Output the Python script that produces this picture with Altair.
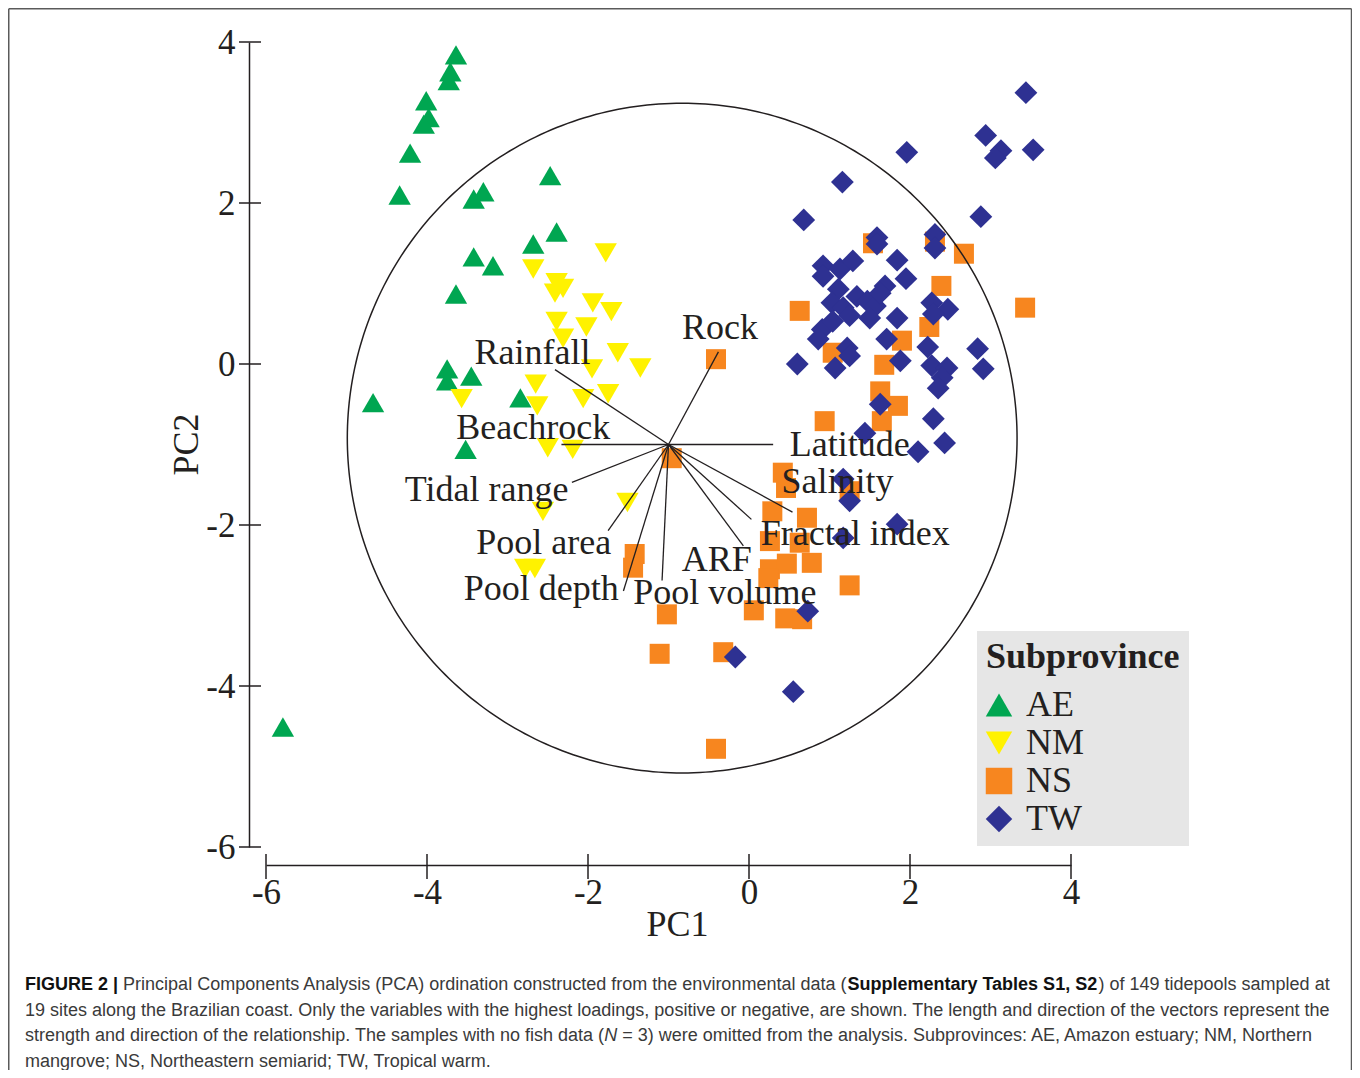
import altair as alt
import pandas as pd
import numpy as np

# ---------------- data ----------------
groups = ["AE", "NM", "NS", "TW"]
group_colors = ["#00a651", "#fff200", "#f7861f", "#2e3192"]
group_shapes = ["triangle-up", "triangle-down", "square", "diamond"]
group_sizes = [500, 500, 400, 520]

ae_x = [-3.64, -3.71, -3.73, -4.01, -3.98, -4.04, -4.21, -4.34, -2.47, -3.30, -3.42, -2.39,
        -2.68, -3.42, -3.18, -3.64, -3.75, -3.75, -3.45, -4.67, -2.84, -3.52, -5.79]
ae_y = [3.84, 3.63, 3.52, 3.27, 3.06, 2.98, 2.62, 2.10, 2.34, 2.14, 2.05, 1.64,
        1.49, 1.33, 1.22, 0.87, -0.06, -0.21, -0.15, -0.48, -0.42, -1.06, -4.51]

nm_x = [-1.78, -2.68, -2.39, -2.31, -2.41, -1.94, -1.71, -2.39, -2.02, -2.31, -1.63, -1.35,
        -1.95, -2.65, -3.57, -2.63, -2.06, -1.75, -2.50, -2.19, -1.51, -2.56, -2.78, -2.66]
nm_y = [1.38, 1.18, 1.01, 0.94, 0.88, 0.76, 0.65, 0.53, 0.46, 0.32, 0.14, -0.05,
        -0.06, -0.25, -0.43, -0.52, -0.43, -0.37, -1.04, -1.06, -1.72, -1.83, -2.54, -2.54]

ns_x = [-0.41, -0.96, 0.63, 1.54, 2.31, 2.67, 2.39, 3.43, 2.24, 1.90, 1.04, 1.68, 1.63,
        1.85, 1.65, 0.94, 0.42, 0.46, 1.25, 0.29, 0.72, 0.26, 0.63, -1.42, -1.44, 0.26,
        0.47, 0.24, 0.78, 1.25, -1.02, 0.06, 0.45, 0.66, -1.11, -0.32, -0.41]
ns_y = [0.06, -1.17, 0.66, 1.50, 1.52, 1.37, 0.97, 0.70, 0.46, 0.29, 0.14, -0.01, -0.34,
        -0.52, -0.71, -0.71, -1.35, -1.54, -1.58, -1.83, -1.91, -2.20, -2.22, -2.36, -2.53, -2.55,
        -2.48, -2.66, -2.47, -2.75, -3.11, -3.06, -3.16, -3.17, -3.60, -3.58, -4.78]

tw_x = [3.44, 2.94, 3.13, 3.06, 3.53, 1.96, 1.16, 0.68, 2.88, 1.59, 1.59, 2.31, 2.31, 1.84,
        0.92, 0.92, 1.13, 1.29, 1.95, 1.69, 1.11, 1.03, 1.17, 1.34, 1.47, 1.57, 1.63, 1.25,
        1.50, 0.91, 0.86, 1.04, 2.27, 2.47, 2.29, 1.84, 1.71, 2.22, 1.22, 1.25, 2.84, 2.91,
        0.60, 1.07, 1.88, 2.27, 2.46, 2.40, 2.35, 1.63, 2.29, 1.44, 2.43, 2.10, 1.17, 1.25,
        1.17, 1.84, 0.73, -0.17, 0.55]
tw_y = [3.37, 2.84, 2.65, 2.56, 2.66, 2.63, 2.26, 1.79, 1.83, 1.57, 1.49, 1.61, 1.44, 1.29,
        1.22, 1.09, 1.18, 1.28, 1.06, 0.97, 0.93, 0.76, 0.70, 0.84, 0.78, 0.72, 0.88, 0.60,
        0.57, 0.43, 0.31, 0.53, 0.76, 0.68, 0.62, 0.57, 0.31, 0.21, 0.20, 0.10, 0.19, -0.06,
        0.00, -0.05, 0.04, -0.02, -0.05, -0.17, -0.30, -0.50, -0.68, -0.86, -0.98, -1.09, -1.43,
        -1.70, -2.16, -1.99, -3.07, -3.64, -4.07]

# environmental vectors
vec_origin = (-1.0, -1.0)
vec_names = ["Rock", "Rainfall", "Beachrock", "Tidal range", "Pool area", "Pool depth",
             "Pool volume", "ARF", "Fractal index", "Salinity", "Latitude"]
vec_end_x = [-0.38, -2.41, -2.33, -2.20, -1.75, -1.56, -1.08, -0.07, 0.03, 0.54, 0.30]
vec_end_y = [0.15, -0.07, -1.00, -1.47, -2.07, -2.82, -2.69, -2.26, -1.93, -1.84, -1.00]
vec_label_x = [-0.36, -2.69, -2.68, -3.26, -2.55, -2.58, -0.30, -0.40, 1.32, 1.10, 1.25]
vec_label_y = [0.45, 0.14, -0.80, -1.57, -2.22, -2.80, -2.85, -2.43, -2.11, -1.47, -1.01]

# correlation circle
circle_cx, circle_cy, circle_r = -0.83, -0.92, 4.16

tick_values = [-6, -4, -2, 0, 2, 4]

caption_line1 = ["FIGURE 2 |",
                 "Principal Components Analysis (PCA) ordination constructed from the environmental data (",
                 "Supplementary Tables S1, S2",
                 ") of 149 tidepools sampled at"]
caption_line2 = ["19 sites along the Brazilian coast. Only the variables with the highest loadings, "
                 "positive or negative, are shown. The length and direction of the vectors represent the"]
caption_line3 = ["strength and direction of the relationship. The samples with no fish data (",
                 "N",
                 "= 3) were omitted from the analysis. Subprovinces: AE, Amazon estuary; NM, Northern"]
caption_line4 = ["mangrove; NS, Northeastern semiarid; TW, Tropical warm."]

# ---------------- styling ----------------
ink = "#231f20"
serif = "Liberation Serif"
sans = "Liberation Sans"
W, H = 805, 805
PX0, PY0 = 266, 42  # page position of plot origin
CANVAS_W, CANVAS_H = 1344, 1062

rows = []
for g, xs, ys in zip(groups, [ae_x, nm_x, ns_x, tw_x], [ae_y, nm_y, ns_y, tw_y]):
    for x, y in zip(xs, ys):
        rows.append({"group": g, "PC1": x, "PC2": y})
points = pd.DataFrame(rows)

x_scale = alt.Scale(domain=[-6, 4], nice=False, zero=False)
y_scale = alt.Scale(domain=[-6, 4], nice=False, zero=False)

x_axis = alt.Axis(title="PC1", values=tick_values, offset=18, ticks=False, tickSize=0, grid=False,
                  domainColor=ink, domainWidth=1.5, labelFont=serif, labelFontSize=35,
                  labelColor=ink, labelPadding=10, labelFlush=False, labelOverlap=False,
                  labelExpr="'' + datum.value",
                  titleFont=serif, titleFontSize=36, titleFontWeight="normal", titleColor=ink,
                  titleX=411, titleY=59, titleBaseline="middle", titleAlign="center")
y_axis = alt.Axis(title="PC2", values=tick_values, offset=17, ticks=False, tickSize=0, grid=False,
                  domainColor=ink, domainWidth=1.5, labelFont=serif, labelFontSize=35,
                  labelColor=ink, labelPadding=14, labelFlush=False, labelOverlap=False,
                  labelExpr="'' + datum.value",
                  titleFont=serif, titleFontSize=36, titleFontWeight="normal", titleColor=ink,
                  titleX=-63, titleY=402, titleBaseline="middle", titleAlign="center")

legend = alt.Legend(title="Subprovince", orient="none", legendX=977 - PX0, legendY=631 - PY0,
                    direction="vertical", fillColor="#e6e6e6", padding=9,
                    titleFont=serif, titleFontSize=36, titleFontWeight="bold", titleColor=ink,
                    titleLimit=500, labelLimit=300,
                    titlePadding=11, labelFont=serif, labelFontSize=36, labelColor=ink,
                    labelOffset=9, symbolOffset=-5, rowPadding=2, symbolSize=700, symbolOpacity=1,
                    symbolStrokeWidth=0)

color_enc = alt.Color("group:N", scale=alt.Scale(domain=groups, range=group_colors), legend=legend)
shape_enc = alt.Shape("group:N", scale=alt.Scale(domain=groups, range=group_shapes), legend=legend)

point_layers = []
for k, (g, sz) in enumerate(zip(groups, group_sizes)):
    sub = points[points["group"] == g]
    if k == 0:
        xe = alt.X("PC1:Q", scale=x_scale, axis=x_axis)
        ye = alt.Y("PC2:Q", scale=y_scale, axis=y_axis)
    else:
        xe = alt.X("PC1:Q", scale=x_scale)
        ye = alt.Y("PC2:Q", scale=y_scale)
    point_layers.append(
        alt.Chart(sub).mark_point(filled=True, opacity=1, strokeWidth=0, size=sz).encode(
            x=xe, y=ye, color=color_enc, shape=shape_enc)
    )

theta = np.linspace(0, 2 * np.pi, 361)
circ_df = pd.DataFrame({"PC1": circle_cx + circle_r * np.cos(theta),
                        "PC2": circle_cy + circle_r * np.sin(theta),
                        "i": np.arange(len(theta))})
circ = alt.Chart(circ_df).mark_line(color=ink, strokeWidth=1.5).encode(
    x=alt.X("PC1:Q", scale=x_scale),
    y=alt.Y("PC2:Q", scale=y_scale),
    order="i:Q",
)

vec_df = pd.DataFrame({"name": vec_names, "PC1": vec_origin[0], "PC2": vec_origin[1],
                       "x1": vec_end_x, "y1": vec_end_y})
vecs = alt.Chart(vec_df).mark_rule(color=ink, strokeWidth=1.3).encode(
    x=alt.X("PC1:Q", scale=x_scale),
    y=alt.Y("PC2:Q", scale=y_scale),
    x2="x1:Q", y2="y1:Q",
)
lab_df = pd.DataFrame({"name": vec_names, "PC1": vec_label_x, "PC2": vec_label_y})
labs = alt.Chart(lab_df).mark_text(font=serif, fontSize=36, color=ink, align="center",
                                   baseline="middle").encode(
    x=alt.X("PC1:Q", scale=x_scale),
    y=alt.Y("PC2:Q", scale=y_scale),
    text="name:N",
)

xticks = alt.Chart(pd.DataFrame({"PC1": tick_values})).mark_rule(color=ink, strokeWidth=1.5).encode(
    x=alt.X("PC1:Q", scale=x_scale), y=alt.value(H + 7), y2=alt.value(H + 32))
yticks = alt.Chart(pd.DataFrame({"PC2": tick_values})).mark_rule(color=ink, strokeWidth=1.5).encode(
    y=alt.Y("PC2:Q", scale=y_scale), x=alt.value(-27), x2=alt.value(-5))

one = pd.DataFrame({"a": [0]})
fl, fr, ft, fb = 8.75 - PX0, 1351.5 - PX0, 8.75 - PY0, 1090 - PY0
frame_col = "#5a5a5a"
frame = [
    alt.Chart(one).mark_rule(color=frame_col, strokeWidth=1.5).encode(
        x=alt.value(fl), y=alt.value(ft), y2=alt.value(fb)),
    alt.Chart(one).mark_rule(color=frame_col, strokeWidth=1.5).encode(
        x=alt.value(fr), y=alt.value(ft), y2=alt.value(fb)),
    alt.Chart(one).mark_rule(color=frame_col, strokeWidth=1.5).encode(
        y=alt.value(ft), x=alt.value(fl), x2=alt.value(fr)),
]


def seg(text, px, py, weight="normal", style="normal", color="#3a3a3a"):
    return alt.Chart(pd.DataFrame({"t": [text]})).mark_text(
        align="left", baseline="middle", font=sans, fontSize=18, fontWeight=weight,
        fontStyle=style, color=color).encode(
        x=alt.value(px - PX0), y=alt.value(py - PY0), text="t:N")


cap = [
    seg(caption_line1[0], 25, 985, weight="bold", color="#111111"),
    seg(caption_line1[1], 123.1, 985),
    seg(caption_line1[2], 847.4, 985, weight="bold", color="#111111"),
    seg(caption_line1[3], 1098.5, 985),
    seg(caption_line2[0], 25, 1010.5),
    seg(caption_line3[0], 25, 1036),
    seg(caption_line3[1], 604.3, 1036, style="italic"),
    seg(caption_line3[2], 622.3, 1036),
    seg(caption_line4[0], 25, 1061.5),
]

pad = {"left": PX0 - 8, "top": PY0 - 8,
       "right": CANVAS_W - (PX0 - 8) - W, "bottom": CANVAS_H - (PY0 - 8) - H}

chart = alt.layer(*point_layers, circ, vecs, labs, xticks, yticks, *frame, *cap).properties(
    width=W, height=H, padding=pad, background="white",
    autosize=alt.AutoSizeParams(type="none")
).configure_view(stroke=None)

chart.save("out.html", embed_options={"renderer": "svg", "actions": False})
